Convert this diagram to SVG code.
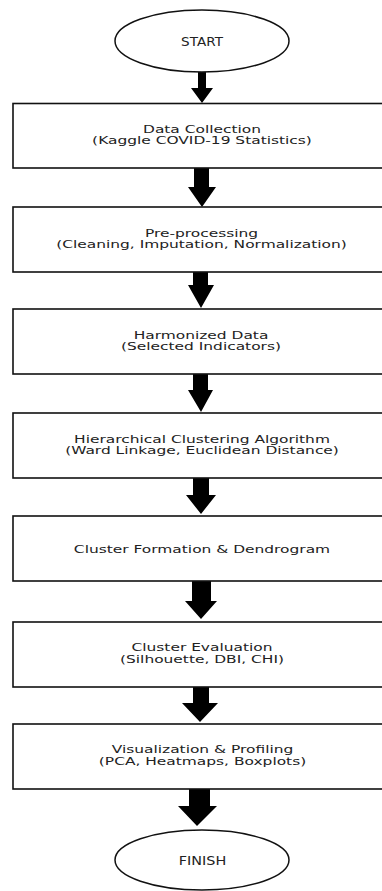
<svg xmlns="http://www.w3.org/2000/svg" width="382" height="891" viewBox="0 0 382 891">
<style>
.bg{fill:#ffffff}
.box{fill:#ffffff;stroke:#111111;stroke-width:1.6}
.term{fill:#ffffff;stroke:#111111;stroke-width:1.5}
.t{font-family:"DejaVu Sans","Liberation Sans",sans-serif;font-size:10.5px;fill:#222222;text-anchor:middle}
.tt{font-family:"DejaVu Sans","Liberation Sans",sans-serif;font-size:12px;fill:#222222;text-anchor:middle}
.arr{fill:#000000;stroke:none}
</style>
<rect class="bg" x="0" y="0" width="382" height="891"/>
<g id="connectors">
<path class="arr" d="M198,72 H206 V88 H213 L202,103 L191,88 H198 Z"/>
<path class="arr" d="M194,168 H209 V187 H216 L202,207 L188,187 H194 Z"/>
<path class="arr" d="M193,272 H208 V285 H214 L201,308 L188,285 H193 Z"/>
<path class="arr" d="M193,374 H208 V390 H213 L201,412 L188,390 H193 Z"/>
<path class="arr" d="M193,478 H209 V495 H216 L201,514 L186,495 H193 Z"/>
<path class="arr" d="M192,581 H211 V601 H217 L201,619 L185,601 H192 Z"/>
<path class="arr" d="M193,687 H209 V703 H218 L200,722 L182,703 H193 Z"/>
<path class="arr" d="M189,789 H210 V806 H217 L197,826 L178,806 H189 Z"/>
</g>
<g id="start">
<ellipse class="term" cx="202" cy="41" rx="87" ry="31"/>
<text class="tt" x="0" y="46.5" transform="translate(202 0) scale(1.13 1)">START</text>
</g>
<g id="data-collection">
<rect class="box" x="13" y="103.5" width="380" height="64.5"/>
<g transform="translate(202 0) scale(1.47 1)">
<text class="t" x="0" y="133">Data Collection</text>
<text class="t" x="0" y="144">(Kaggle COVID-19 Statistics)</text>
</g>
</g>
<g id="pre-processing">
<rect class="box" x="13" y="207" width="380" height="65"/>
<g transform="translate(201.5 0) scale(1.47 1)">
<text class="t" x="0" y="237">Pre-processing</text>
<text class="t" x="0" y="248">(Cleaning, Imputation, Normalization)</text>
</g>
</g>
<g id="harmonized-data">
<rect class="box" x="13" y="309" width="380" height="65"/>
<g transform="translate(201 0) scale(1.47 1)">
<text class="t" x="0" y="339">Harmonized Data</text>
<text class="t" x="0" y="350">(Selected Indicators)</text>
</g>
</g>
<g id="hierarchical-clustering">
<rect class="box" x="13" y="413" width="380" height="65"/>
<g transform="translate(202 0) scale(1.47 1)">
<text class="t" x="0" y="443">Hierarchical Clustering Algorithm</text>
<text class="t" x="0" y="454">(Ward Linkage, Euclidean Distance)</text>
</g>
</g>
<g id="cluster-formation">
<rect class="box" x="13" y="516" width="380" height="65"/>
<g transform="translate(202 0) scale(1.47 1)">
<text class="t" x="0" y="553">Cluster Formation &amp; Dendrogram</text>
</g>
</g>
<g id="cluster-evaluation">
<rect class="box" x="13" y="622" width="380" height="65"/>
<g transform="translate(202 0) scale(1.47 1)">
<text class="t" x="0" y="651">Cluster Evaluation</text>
<text class="t" x="0" y="663">(Silhouette, DBI, CHI)</text>
</g>
</g>
<g id="visualization">
<rect class="box" x="13" y="724" width="380" height="65"/>
<g transform="translate(202.5 0) scale(1.47 1)">
<text class="t" x="0" y="753.5">Visualization &amp; Profiling</text>
<text class="t" x="0" y="765.5">(PCA, Heatmaps, Boxplots)</text>
</g>
</g>
<g id="finish">
<ellipse class="term" cx="202" cy="860" rx="87" ry="30"/>
<text class="tt" x="0" y="865" transform="translate(202.5 0) scale(1.2 1)">FINISH</text>
</g>
</svg>
